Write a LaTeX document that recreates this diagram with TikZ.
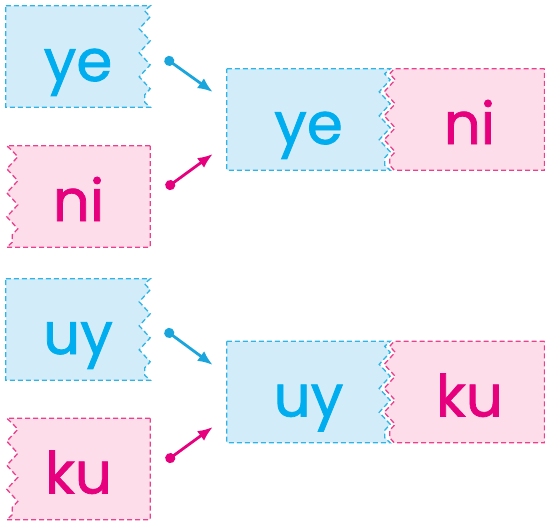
\documentclass[tikz,border=0pt]{standalone}
\usepackage{fontspec}
\setmainfont{Poppins}
\newfontfamily\sylfont{Poppins}[FakeBold=1.3]
\usetikzlibrary{positioning,calc,arrows.meta,backgrounds,decorations.pathmorphing}
\definecolor{skyline}{HTML}{2FB4E6}
\definecolor{skyfill}{HTML}{D2EDF9}
\definecolor{skytext}{HTML}{00AEEF}
\definecolor{skyarrow}{HTML}{1AA6DD}
\definecolor{rosline}{HTML}{EC3F8C}
\definecolor{rosfill}{HTML}{FDDDE9}
\definecolor{rostext}{HTML}{E6007E}

\begin{document}
\begin{tikzpicture}[
  x=1pt, y=-1pt,
  syl/.style={minimum width=#1, inner sep=0pt, text height=75pt, text depth=26pt,
    font=\sylfont\fontsize{58}{58}\selectfont},
  skysyl/.style={syl=#1, text=skytext},
  rossyl/.style={syl=#1, text=rostext},
  skypaper/.style={fill=skyfill, draw=skyline, line width=1.3pt, dash pattern=on 5pt off 3pt},
  rospaper/.style={fill=rosfill, draw=rosline, line width=1.3pt, dash pattern=on 5pt off 3pt},
  torn/.style={decoration={zigzag, segment length=24pt, amplitude=5.5pt}},
  link/.style={line width=2.8pt, {Circle[length=10pt]}-{Latex[length=15pt,width=12pt]}}
]
\useasboundingbox (0,0) rectangle (545,520);

% syllables to join
\node[skysyl=144pt] (ye) at (78,56.5) {ye};
\node[rossyl=143pt] (ni) at (78.5,196.5) {ni};
\node[skysyl=144pt] (uy) at (78,329.5) {uy};
\node[rossyl=143pt] (ku) at (78.5,469) {ku};

% joined words
\node[skysyl=163pt] (yeni) at (308.5,119.5) {ye};
\node[rossyl=150pt, right=4pt of yeni] (niye) {ni};
\node[skysyl=163pt] (uyku) at (308.5,392) {uy};
\node[rossyl=150pt, right=4pt of uyku] (kuuy) {ku};

% torn papers
\begin{scope}[on background layer, line join=round]
  \foreach \n in {ye,uy,yeni,uyku}
    \path[skypaper] (\n.north west) -- (\n.north east) -- ($(\n.north east)+(-5.5,5)$)
      decorate[torn]{-- ($(\n.south east)+(-5.5,-5)$)} -- (\n.south east) -- (\n.south west) -- cycle;
  \foreach \n in {ni,ku}
    \path[rospaper] (\n.north east) -- (\n.north west) -- ($(\n.north west)+(5.5,5)$)
      decorate[torn]{-- ($(\n.south west)+(5.5,-5)$)} -- (\n.south west) -- (\n.south east) -- cycle;
  \foreach \n in {niye,kuuy}
    \path[rospaper] (\n.north east) -- (\n.north west) -- ($(\n.north west)+(-4.5,5)$)
      decorate[torn]{-- ($(\n.south west)+(-4.5,-5)$)} -- (\n.south west) -- (\n.south east) -- cycle;
\end{scope}

% arrows
\coordinate (ye-out) at ($(ye.east)+(15,1.5)$);
\coordinate (ni-out) at ($(ni.east)+(16,-8.5)$);
\coordinate (uy-out) at ($(uy.east)+(15,0.5)$);
\coordinate (ku-out) at ($(ku.east)+(16,-8)$);
\coordinate (yeni-top) at ($(yeni.west)+(-14,-27.5)$);
\coordinate (yeni-bot) at ($(yeni.west)+(-14,34.5)$);
\coordinate (uyku-top) at ($(uyku.west)+(-14,-27)$);
\coordinate (uyku-bot) at ($(uyku.west)+(-14,35)$);

\draw[link, skyarrow] (ye-out) -- (yeni-top);
\draw[link, rostext] (ni-out) -- (yeni-bot);
\draw[link, skyarrow] (uy-out) -- (uyku-top);
\draw[link, rostext] (ku-out) -- (uyku-bot);
\end{tikzpicture}
\end{document}
